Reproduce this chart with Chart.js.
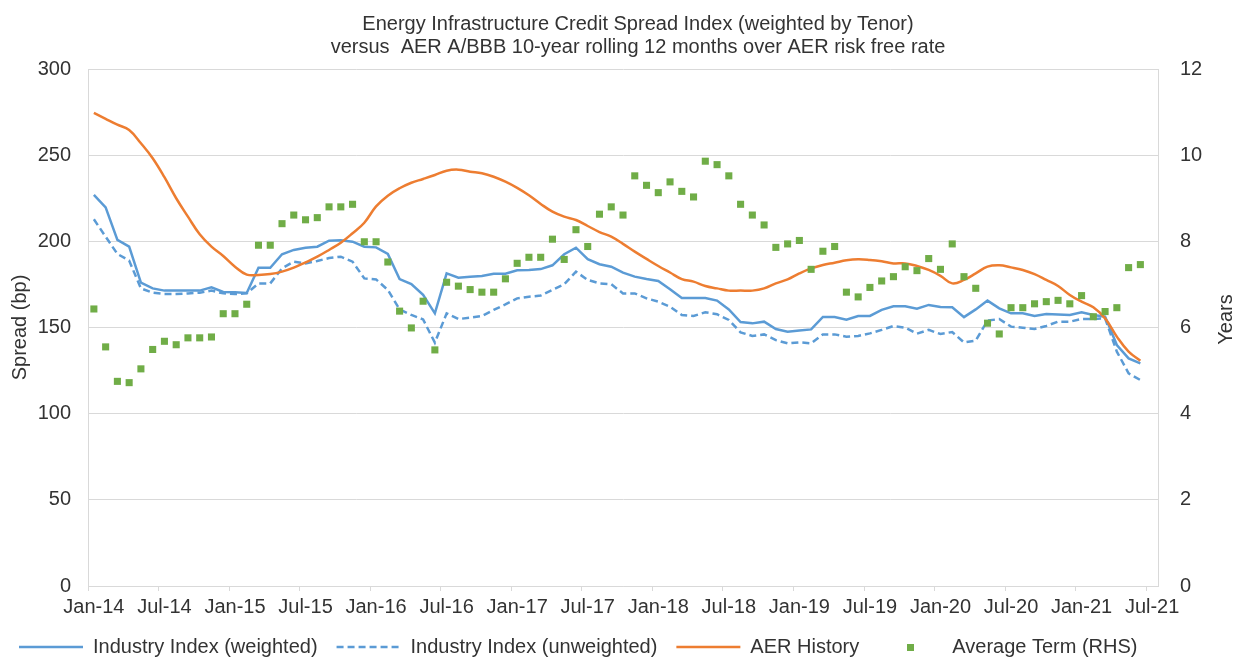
<!DOCTYPE html>
<html lang="en">
<head>
<meta charset="UTF-8">
<title>Energy Infrastructure Credit Spread Index</title>
<script src="https://cdn.jsdelivr.net/npm/chart.js"></script>
<style>
    body { margin: 0; background: #fff; }
    .wrap { width: 1238px; height: 659px; position: relative; }
</style>
</head>
<body>
<div class="wrap"><canvas id="spreadChart"></canvas></div>
<script>
// months on the date axis (Jan-14 .. Jul-21), data runs to Jun-21
const months = [
    'Jan-14','Feb-14','Mar-14','Apr-14','May-14','Jun-14','Jul-14','Aug-14','Sep-14','Oct-14','Nov-14','Dec-14',
    'Jan-15','Feb-15','Mar-15','Apr-15','May-15','Jun-15','Jul-15','Aug-15','Sep-15','Oct-15','Nov-15','Dec-15',
    'Jan-16','Feb-16','Mar-16','Apr-16','May-16','Jun-16','Jul-16','Aug-16','Sep-16','Oct-16','Nov-16','Dec-16',
    'Jan-17','Feb-17','Mar-17','Apr-17','May-17','Jun-17','Jul-17','Aug-17','Sep-17','Oct-17','Nov-17','Dec-17',
    'Jan-18','Feb-18','Mar-18','Apr-18','May-18','Jun-18','Jul-18','Aug-18','Sep-18','Oct-18','Nov-18','Dec-18',
    'Jan-19','Feb-19','Mar-19','Apr-19','May-19','Jun-19','Jul-19','Aug-19','Sep-19','Oct-19','Nov-19','Dec-19',
    'Jan-20','Feb-20','Mar-20','Apr-20','May-20','Jun-20','Jul-20','Aug-20','Sep-20','Oct-20','Nov-20','Dec-20',
    'Jan-21','Feb-21','Mar-21','Apr-21','May-21','Jun-21','Jul-21'
];

// spread, bp (left axis)
const indexWeighted = [
    226.9, 219.7, 200.8, 196.9, 176.0, 172.7, 171.4, 171.4, 171.4, 171.4, 173.3, 170.6,
    170.4, 170.0, 184.7, 184.7, 192.5, 195.0, 196.3, 196.9, 200.4, 200.6, 199.8, 196.9,
    196.5, 192.7, 178.1, 175.2, 168.9, 158.2, 181.4, 178.9, 179.5, 179.9, 181.2, 181.2,
    183.2, 183.4, 183.9, 186.1, 192.5, 196.3, 189.6, 186.7, 185.3, 181.8, 179.5, 178.1,
    177.0, 172.2, 167.1, 167.1, 167.1, 165.6, 160.5, 153.2, 152.4, 153.4, 149.1, 147.6,
    148.2, 148.9, 156.1, 156.1, 154.5, 156.7, 156.7, 160.2, 162.3, 162.3, 160.9, 163.1,
    161.9, 161.7, 156.0, 160.5, 165.6, 161.1, 158.2, 158.2, 156.7, 157.8, 157.5, 157.3,
    158.8, 157.3, 156.3, 139.8, 132.1, 129.2
];
const indexUnweighted = [
    212.8, 202.7, 192.7, 188.8, 172.7, 170.2, 169.4, 169.4, 169.8, 170.2, 171.4, 169.8,
    169.4, 169.8, 175.6, 175.6, 184.3, 188.2, 187.2, 188.6, 190.3, 191.1, 188.2, 178.5,
    177.9, 171.8, 160.5, 157.3, 154.7, 141.2, 158.2, 154.9, 155.7, 156.7, 160.2, 163.4,
    166.9, 167.9, 168.5, 171.8, 175.1, 182.4, 177.6, 175.6, 175.1, 169.8, 169.8, 166.9,
    165.0, 162.1, 157.3, 156.7, 158.8, 157.7, 154.4, 147.2, 145.1, 146.0, 142.7, 140.8,
    141.4, 140.8, 146.0, 146.0, 144.7, 145.1, 146.6, 148.6, 150.9, 149.9, 146.4, 148.6,
    146.2, 147.4, 141.3, 142.4, 154.0, 154.9, 150.5, 149.9, 149.1, 150.9, 153.4, 153.4,
    154.9, 154.9, 155.3, 136.0, 123.4, 119.5
];
const aerHistory = [
    274.6, 271.1, 267.7, 264.6, 256.9, 248.2, 237.2, 225.0, 214.3, 204.1, 196.9, 191.5,
    185.3, 180.7, 180.5, 181.0, 182.4, 184.7, 187.8, 191.1, 195.0, 199.2, 204.7, 210.8,
    220.3, 226.5, 230.8, 234.0, 236.2, 238.5, 241.0, 241.6, 240.4, 239.5, 237.5, 234.6,
    231.0, 226.7, 221.7, 217.2, 214.3, 212.4, 208.9, 205.4, 202.7, 198.5, 194.0, 189.8,
    185.7, 181.9, 178.1, 176.6, 174.1, 172.7, 171.4, 171.4, 171.4, 172.7, 175.6, 177.9,
    181.4, 184.3, 186.3, 187.6, 189.0, 189.6, 189.2, 188.4, 187.2, 187.2, 185.7, 183.4,
    180.0, 175.6, 177.6, 181.4, 185.3, 186.1, 184.9, 183.4, 181.0, 177.6, 174.1, 168.9,
    165.0, 161.7, 155.3, 144.7, 136.0, 130.7
];

// average term, years (right axis)
const averageTerm = [
    6.43, 5.55, 4.75, 4.72, 5.04, 5.49, 5.68, 5.60, 5.76, 5.76, 5.78, 6.32,
    6.32, 6.54, 7.91, 7.91, 8.41, 8.61, 8.50, 8.55, 8.80, 8.80, 8.86, 7.99,
    7.99, 7.52, 6.38, 5.99, 6.61, 5.48, 7.05, 6.96, 6.88, 6.82, 6.82, 7.13,
    7.49, 7.63, 7.63, 8.05, 7.58, 8.27, 7.88, 8.63, 8.80, 8.61, 9.52, 9.30,
    9.13, 9.38, 9.16, 9.03, 9.86, 9.78, 9.52, 8.86, 8.61, 8.38, 7.86, 7.94,
    8.02, 7.35, 7.77, 7.88, 6.82, 6.71, 6.93, 7.08, 7.18, 7.41, 7.32, 7.60,
    7.35, 7.94, 7.18, 6.91, 6.10, 5.85, 6.46, 6.46, 6.55, 6.60, 6.63, 6.55,
    6.74, 6.25, 6.37, 6.46, 7.39, 7.46
];

const chartTitle = [
    'Energy Infrastructure Credit Spread Index (weighted by Tenor)',
    'versus  AER A/BBB 10-year rolling 12 months over AER risk free rate'
];

const BLUE = '#5B9BD5';
const ORANGE = '#ED7D31';
const GREEN = '#70AD47';
const GRID = '#D9D9D9';
const TEXT = '#333333';
const FONT = "'Liberation Sans', Arial, sans-serif";

Chart.defaults.font.family = FONT;
Chart.defaults.font.size = 20;
Chart.defaults.color = TEXT;

// little green square for the legend entry of the marker-only series
const squareIcon = document.createElement('canvas');
squareIcon.width = 7;
squareIcon.height = 7;
const sq = squareIcon.getContext('2d');
sq.fillStyle = GREEN;
sq.fillRect(0, 0, 7, 7);

// chart title + right axis title (rotated bottom-to-top like the left one)
const extraText = {
    id: 'extraText',
    afterDraw(chart) {
        const c = chart.ctx;
        const area = chart.chartArea;
        c.save();
        c.fillStyle = TEXT;
        c.font = '20px ' + FONT;
        c.textAlign = 'center';
        c.textBaseline = 'alphabetic';
        c.fillText(chartTitle[0], 638, 30);
        c.fillText(chartTitle[1], 638, 53);
        c.translate(chart.width - 12, (area.top + area.bottom) / 2 - 8);
        c.rotate(-Math.PI / 2);
        c.textBaseline = 'middle';
        c.fillText('Years', 0, 0);
        c.restore();
    }
};

new Chart(document.getElementById('spreadChart'), {
    type: 'line',
    data: {
        labels: months,
        datasets: [
            {
                label: 'Industry Index (weighted)',
                data: indexWeighted,
                borderColor: BLUE,
                backgroundColor: BLUE,
                borderWidth: 2.5,
                pointRadius: 0,
                tension: 0,
                yAxisID: 'y',
                order: 3
            },
            {
                label: 'Industry Index (unweighted)',
                data: indexUnweighted,
                borderColor: BLUE,
                backgroundColor: BLUE,
                borderWidth: 2.5,
                borderDash: [7, 4],
                pointRadius: 0,
                tension: 0,
                yAxisID: 'y',
                order: 2
            },
            {
                label: 'AER History',
                data: aerHistory,
                borderColor: ORANGE,
                backgroundColor: ORANGE,
                borderWidth: 2.5,
                pointRadius: 0,
                tension: 0.4,
                yAxisID: 'y',
                order: 1
            },
            {
                label: 'Average Term (RHS)',
                data: averageTerm,
                showLine: false,
                pointStyle: 'rect',
                pointRadius: 5,
                pointBorderWidth: 0,
                pointBackgroundColor: GREEN,
                backgroundColor: GREEN,
                borderColor: GREEN,
                yAxisID: 'y1',
                order: 0
            }
        ]
    },
    options: {
        responsive: true,
        maintainAspectRatio: false,
        animation: false,
        layout: { padding: { top: 69, left: 0, right: 0, bottom: -8 } },
        plugins: {
            title: { display: false },
            tooltip: { enabled: false },
            legend: {
                position: 'bottom',
                align: 'start',
                labels: {
                    usePointStyle: true,
                    pointStyleWidth: 64,
                    padding: 19,
                    color: TEXT,
                    font: { size: 20 },
                    generateLabels: chart => chart.data.datasets.map((ds, i) => ({
                        text: ds.label,
                        datasetIndex: i,
                        hidden: false,
                        fillStyle: ds.borderColor,
                        strokeStyle: ds.borderColor,
                        lineWidth: ds.showLine === false ? 0 : ds.borderWidth,
                        lineDash: ds.borderDash || [],
                        pointStyle: ds.showLine === false ? squareIcon : 'line',
                        fontColor: TEXT
                    }))
                }
            }
        },
        scales: {
            x: {
                offset: true,
                afterFit: s => { s.height = 32; },
                grid: {
                    offset: true,
                    drawOnChartArea: false,
                    drawTicks: true,
                    tickLength: 5,
                    tickColor: ctx => (ctx.index % 6 === 0 ? GRID : 'rgba(0,0,0,0)')
                },
                border: { display: true, color: GRID },
                ticks: {
                    autoSkip: false,
                    maxRotation: 0,
                    minRotation: 0,
                    padding: 4,
                    color: TEXT,
                    callback: function (value) {
                        const m = this.getLabelForValue(value);
                        return (m.startsWith('Jan') || m.startsWith('Jul')) ? m : '';
                    }
                }
            },
            y: {
                position: 'left',
                min: 0,
                max: 300,
                afterFit: s => { s.width = 88; },
                ticks: { stepSize: 50, padding: 17, color: TEXT },
                grid: { color: GRID, drawTicks: false },
                border: { display: true, color: GRID },
                title: {
                    display: true,
                    text: 'Spread (bp)',
                    color: TEXT,
                    font: { size: 20 },
                    padding: { top: 8, bottom: 0 }
                }
            },
            y1: {
                position: 'right',
                min: 0,
                max: 12,
                afterFit: s => { s.width = 80; },
                ticks: { stepSize: 2, padding: 22, color: TEXT },
                grid: { drawOnChartArea: false, drawTicks: false },
                border: { display: true, color: GRID }
            }
        }
    },
    plugins: [extraText]
});
</script>
</body>
</html>
